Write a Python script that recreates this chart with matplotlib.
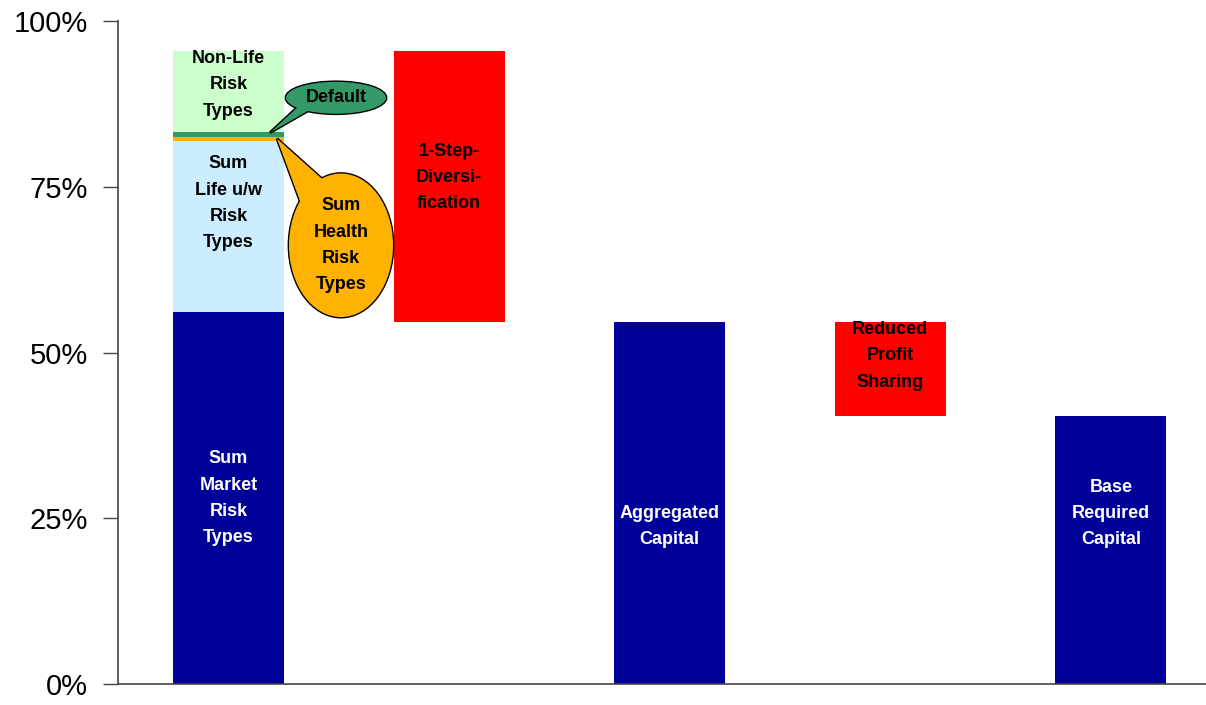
import matplotlib
matplotlib.use("Agg")
import matplotlib.pyplot as plt
from matplotlib.patches import Ellipse, Polygon
from matplotlib.ticker import FuncFormatter

# Waterfall of required capital (share of undiversified total, %)
steps = ["Sum Risk Types", "1-Step-Diversification", "Aggregated Capital",
         "Reduced Profit Sharing", "Base Required Capital"]

# stacked components of the first column
stack_names = ["Sum\nMarket\nRisk\nTypes", "Sum\nLife u/w\nRisk\nTypes",
               "Sum Health Risk Types", "Default", "Non-Life\nRisk\nTypes"]
stack_values = [56.1, 25.8, 0.65, 0.65, 12.3]
stack_colors = ["#000099", "#CCECFF", "#FFB300", "#339966", "#CCFFCC"]
stack_text_colors = ["white", "black", None, None, "black"]
stack_label_y = [28.0, 72.5, None, None, 90.4]

# reductions and resulting totals
diversification = 40.9
profit_sharing = 14.2
aggregated = sum(stack_values) - diversification
base_required = aggregated - profit_sharing

fig = plt.figure(figsize=(12.06, 7.05), dpi=100)
ax = fig.add_axes([118.2 / 1206, 21 / 705, 1 - 118.2 / 1206, (684 - 21) / 705])
ax.set_xlim(-0.5, (1206 - 118.2) / 220.6 - 0.5)
ax.set_ylim(0, 100 * (684 - 21) / (684 - 19))

bw = 0.503
bold = dict(family="Liberation Sans", fontweight="bold", fontsize=13,
            ha="center", va="center", linespacing=1.72)

# first column: stacked risk types
bottom = 0.0
for name, val, col, tc, ly in zip(stack_names, stack_values, stack_colors,
                                  stack_text_colors, stack_label_y):
    ax.bar(0, val, bottom=bottom, width=bw, color=col, linewidth=0, zorder=2)
    if tc is not None:
        ax.text(0, ly, name, color=tc, zorder=5, **bold)
    bottom += val
total = bottom

# 1-step diversification (floating red bar)
ax.bar(1, diversification, bottom=total - diversification, width=bw,
       color="#FF0000", linewidth=0, zorder=2)
ax.text(1, 76.4, "1-Step-\nDiversi-\nfication", color="black", zorder=5, **bold)

# aggregated capital
ax.bar(2, aggregated, width=bw, color="#000099", linewidth=0, zorder=2)
ax.text(2, 23.8, "Aggregated\nCapital", color="white", zorder=5, **bold)

# reduced profit sharing
ax.bar(3, profit_sharing, bottom=aggregated - profit_sharing, width=bw,
       color="#FF0000", linewidth=0, zorder=2)
ax.text(3, 49.5, "Reduced\nProfit\nSharing", color="black", zorder=5, **bold)

# base required capital
ax.bar(4, base_required, width=bw, color="#000099", linewidth=0, zorder=2)
ax.text(4, 25.7, "Base\nRequired\nCapital", color="white", zorder=5, **bold)


def px2data(px, py):
    return ((px - 118.2) / 220.6 - 0.5, (684 - py) / 6.65)


def callout(center_px, w_px, h_px, tail_px, color, text, z):
    cx, cy = px2data(*center_px)
    w = w_px / 220.6
    h = h_px / 6.65
    tail = [px2data(*p) for p in tail_px]
    # outlines first, fills on top so the tail merges into the bubble
    ax.add_patch(Ellipse((cx, cy), w, h, facecolor="none", edgecolor="black",
                         linewidth=2.0, zorder=z))
    ax.add_patch(Polygon(tail, closed=True, facecolor="none", edgecolor="black",
                         linewidth=2.0, joinstyle="miter", zorder=z))
    ax.add_patch(Ellipse((cx, cy), w, h, facecolor=color, edgecolor="none",
                         zorder=z + 0.1))
    ax.add_patch(Polygon(tail, closed=True, facecolor=color, edgecolor="none",
                         zorder=z + 0.1))
    ax.text(cx, cy, text, color="black", zorder=z + 0.2, **bold)


# "Default" bubble pointing at the thin green band
callout((336, 96), 100, 32,
        [(299, 104), (270, 131), (310, 108)], "#339966", "Default", 6)
# "Sum Health Risk Types" bubble pointing at the thin orange band
callout((341, 244), 104, 144,
        [(302, 205), (277, 137), (325, 180)], "#FFB300",
        "Sum\nHealth\nRisk\nTypes", 6)

# axes styling
for s in ["top", "right"]:
    ax.spines[s].set_visible(False)
for s in ["left", "bottom"]:
    ax.spines[s].set_color("#444444")
    ax.spines[s].set_linewidth(1.2)
ax.set_xticks([])
ax.set_yticks([0, 25, 50, 75, 100])
ax.yaxis.set_major_formatter(FuncFormatter(lambda v, _: f"{v:.0f}%"))
ax.tick_params(axis="y", direction="out", length=11, width=1.0, color="#444444",
               pad=11, labelsize=21)
for lbl in ax.get_yticklabels():
    lbl.set_family("Liberation Sans")

fig.savefig("out.png", dpi=100, facecolor="white")
